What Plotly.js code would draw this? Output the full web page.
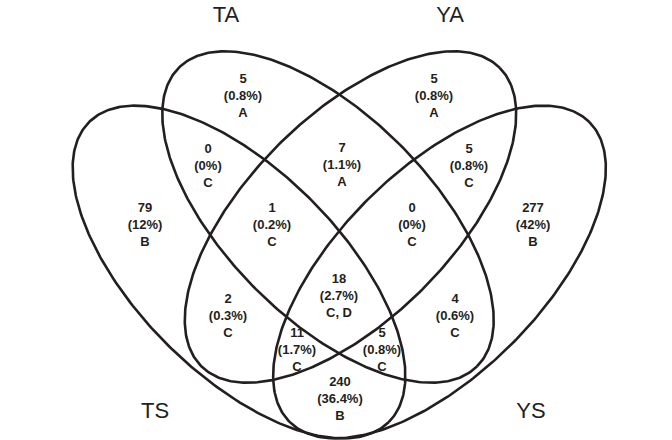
<!DOCTYPE html>
<html>
<head>
<meta charset="utf-8">
<script src="https://cdn.plot.ly/plotly-3.0.1.min.js"></script>
<style>html,body{margin:0;padding:0;background:#fff;}#chart{width:672px;height:440px;}</style>
</head>
<body>
<div id="chart"></div>
<script>
// ---- data ----
const setNames = ["TA", "YA", "TS", "YS"];
const regionCounts = [5, 5, 0, 7, 5, 79, 1, 0, 277, 18, 2, 4, 11, 5, 240];
const regionPercents = ["0.8%", "0.8%", "0%", "1.1%", "0.8%", "12%", "0.2%", "0%", "42%", "2.7%", "0.3%", "0.6%", "1.7%", "0.8%", "36.4%"];
const regionGroups = ["A", "A", "C", "A", "C", "B", "C", "C", "B", "C, D", "C", "C", "C", "C", "B"];

// ---- layout geometry (pixel space) ----
const regionPos = [
  [243, 97], [434, 97],
  [208, 167], [342, 166], [469, 167],
  [145, 226], [272, 226], [412, 226], [533, 226],
  [339, 297], [228, 317], [455, 317],
  [297, 351], [382, 351], [340, 400]
];
const labelPos = [[226, 16], [450, 16], [155, 412], [531, 412]];
// ellipses: [cx, cy, a, b, angleDeg]
const ellipses = [
  [328, 217, 211, 102, 45],
  [350.5, 217, 211, 102, -45],
  [239, 272, 212, 102, 45],
  [439.5, 272, 212, 102, -45]
];

const ink = "#231f20";
const traces = [];
ellipses.forEach(function (e) {
  const xs = [], ys = [];
  const phi = e[4] * Math.PI / 180;
  for (let i = 0; i <= 360; i++) {
    const t = i * Math.PI / 180;
    xs.push(e[0] + e[2] * Math.cos(t) * Math.cos(phi) - e[3] * Math.sin(t) * Math.sin(phi));
    ys.push(e[1] + e[2] * Math.cos(t) * Math.sin(phi) + e[3] * Math.sin(t) * Math.cos(phi));
  }
  traces.push({x: xs, y: ys, mode: "lines", line: {color: ink, width: 2.6}, hoverinfo: "skip", showlegend: false});
});

traces.push({
  x: regionPos.map(p => p[0]),
  y: regionPos.map(p => p[1]),
  mode: "text",
  text: regionCounts.map((c, i) => "<b>" + c + "<br>(" + regionPercents[i] + ")<br>" + regionGroups[i] + "</b>"),
  textposition: "middle center",
  textfont: {family: "Liberation Sans, Arial, sans-serif", size: 13, color: ink},
  hoverinfo: "skip", showlegend: false
});
traces.push({
  x: labelPos.map(p => p[0]),
  y: labelPos.map(p => p[1]),
  mode: "text",
  text: setNames,
  textposition: "middle center",
  textfont: {family: "Liberation Sans, Arial, sans-serif", size: 22, color: ink},
  hoverinfo: "skip", showlegend: false
});

const layout = {
  width: 672, height: 440,
  margin: {l: 0, r: 0, t: 0, b: 0},
  paper_bgcolor: "#fff", plot_bgcolor: "#fff",
  xaxis: {range: [0, 672], visible: false, fixedrange: true},
  yaxis: {range: [440, 0], visible: false, fixedrange: true},
  showlegend: false
};
Plotly.newPlot("chart", traces, layout, {staticPlot: true, displayModeBar: false});
</script>
</body>
</html>
